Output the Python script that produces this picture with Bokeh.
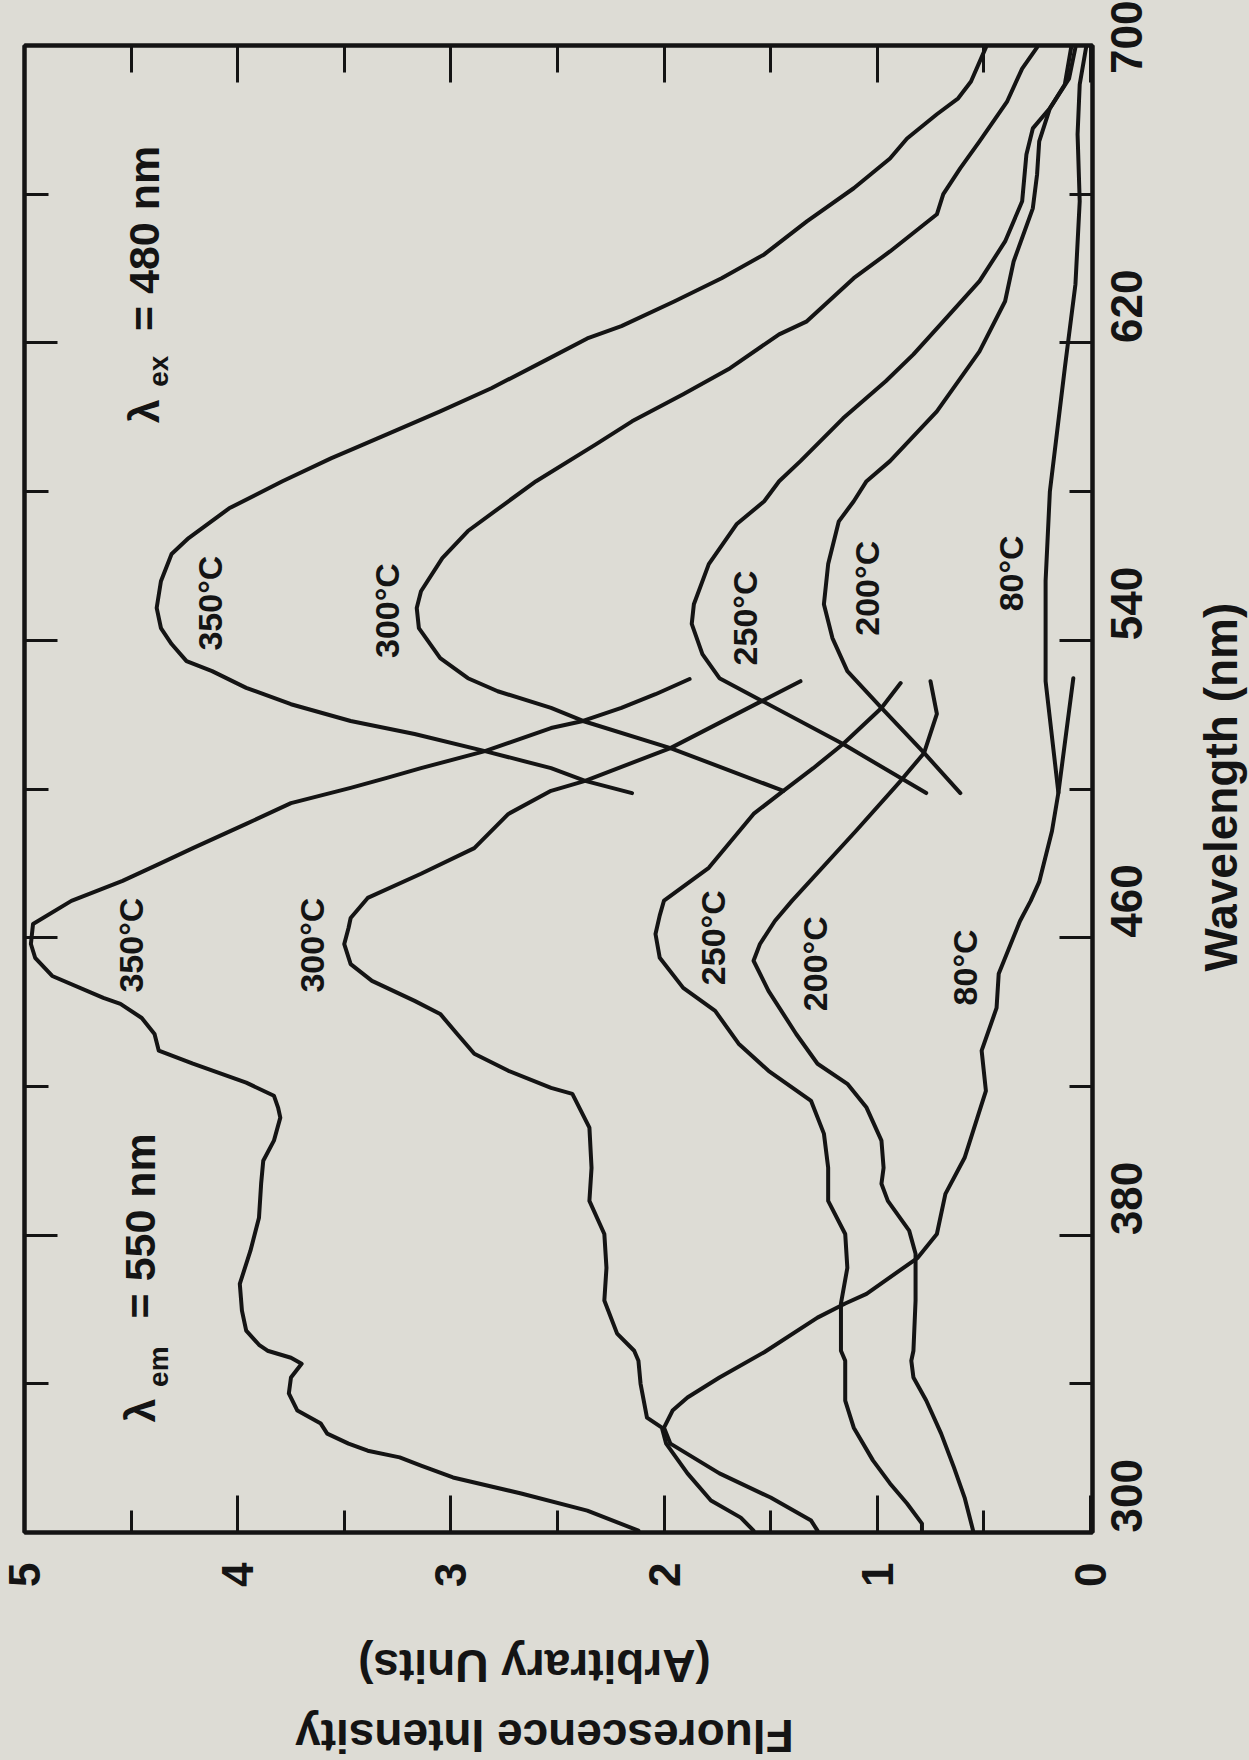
import math
from bokeh.plotting import figure
from bokeh.layouts import column, row
from bokeh.models import Range1d, LinearAxis, FixedTicker, ColumnDataSource
from bokeh.core.properties import value
from bokeh.embed import file_html
from bokeh.resources import INLINE

# ---------------- data (wavelength in nm, intensity in arbitrary units) ----------------
# Excitation spectra, lambda_em = 550 nm
EX350_WL = [300.5, 305.9, 310.5, 314.8, 318.0, 320.2, 322.0, 323.9, 326.6, 329.3, 332.8, 337.4, 341.7,
            345.4, 347.0, 348.9, 350.5, 354.3, 359.7, 366.9, 375.8, 384.7, 393.8, 400.0, 405.4, 411.6,
            414.2, 417.5, 421.0, 426.1, 429.6, 434.1, 438.4, 442.2, 443.8, 449.7, 454.6, 458.3, 463.7,
            469.9, 475.3, 479.8, 484.1, 490.6, 496.2, 500.3, 503.0, 505.6, 510.2, 516.4, 518.3, 521.8,
            525.5, 529.6]
EX350_I = [2.12, 2.36, 2.67, 2.99, 3.14, 3.24, 3.39, 3.48, 3.58, 3.61, 3.72, 3.76, 3.75,
           3.70, 3.75, 3.86, 3.90, 3.96, 3.98, 3.99, 3.94, 3.90, 3.89, 3.88, 3.83, 3.80,
           3.81, 3.83, 3.96, 4.21, 4.37, 4.39, 4.45, 4.55, 4.63, 4.87, 4.95, 4.97, 4.96,
           4.78, 4.54, 4.37, 4.21, 3.96, 3.75, 3.47, 3.30, 3.14, 2.84, 2.53, 2.38, 2.20,
           2.04, 1.88]

EX300_WL = [300.5, 304.0, 308.6, 315.9, 323.9, 328.2, 330.9, 340.0, 346.2, 348.9, 353.5, 362.4, 371.2,
            380.3, 389.2, 398.1, 408.9, 418.0, 419.6, 424.2, 428.8, 434.1, 439.5, 443.0, 448.4, 452.9,
            458.3, 462.6, 465.3, 470.7, 477.2, 484.1, 493.3, 499.5, 502.2, 511.0, 523.7, 529.0]
EX300_I = [1.58, 1.64, 1.78, 1.89, 1.99, 2.01, 2.08, 2.11, 2.12, 2.14, 2.22, 2.28, 2.27,
           2.28, 2.35, 2.34, 2.35, 2.43, 2.53, 2.73, 2.89, 2.97, 3.05, 3.17, 3.37, 3.47,
           3.50, 3.48, 3.47, 3.39, 3.14, 2.89, 2.73, 2.53, 2.37, 1.97, 1.54, 1.36]

EX250_WL = [300.5, 302.4, 307.8, 313.2, 319.4, 328.2, 335.5, 346.2, 348.9, 361.6, 371.2, 380.3, 389.2,
            398.1, 407.3, 416.1, 424.2, 431.5, 440.3, 446.5, 454.6, 461.0, 466.0, 470.0, 478.8, 493.3,
            499.5, 505.6, 512.1, 521.8, 528.5]
EX250_I = [0.79, 0.79, 0.86, 0.94, 1.02, 1.11, 1.15, 1.15, 1.17, 1.17, 1.14, 1.15, 1.23,
           1.23, 1.25, 1.31, 1.51, 1.65, 1.76, 1.91, 2.02, 2.04, 2.02, 2.00, 1.79, 1.58,
           1.44, 1.30, 1.16, 0.98, 0.89]

EX200_WL = [300.5, 309.4, 317.5, 326.6, 335.5, 341.7, 346.2, 348.9, 362.4, 375.0, 381.2, 389.2, 393.8,
            398.1, 405.4, 414.3, 420.7, 426.1, 434.1, 445.7, 453.8, 458.3, 464.5, 469.9, 488.7, 502.2,
            509.7, 520.2, 529.0]
EX200_I = [0.55, 0.59, 0.64, 0.70, 0.77, 0.83, 0.84, 0.83, 0.82, 0.82, 0.85, 0.95, 0.98,
           0.97, 0.98, 1.05, 1.14, 1.28, 1.38, 1.51, 1.58, 1.55, 1.48, 1.40, 1.10, 0.89,
           0.78, 0.72, 0.75]

EX80_WL = [300.5, 303.2, 309.4, 315.9, 323.9, 328.2, 332.8, 336.3, 341.7, 348.5, 357.8, 361.6, 364.2,
           373.9, 380.3, 391.1, 400.8, 411.6, 418.8, 429.6, 441.1, 450.3, 464.5, 469.9, 475.0, 488.7,
           499.0, 529.8]
EX80_I = [1.28, 1.31, 1.50, 1.74, 1.97, 2.00, 1.96, 1.89, 1.74, 1.53, 1.28, 1.15, 1.05,
          0.81, 0.72, 0.68, 0.59, 0.53, 0.49, 0.51, 0.44, 0.43, 0.33, 0.28, 0.24, 0.18,
          0.15, 0.08]

# Emission spectra, lambda_ex = 480 nm
EM350_WL = [498.9, 502.2, 505.6, 510.2, 514.8, 518.3, 522.8, 527.2, 531.7, 534.4, 539.0, 543.3, 548.7,
            555.9, 563.2, 567.5, 575.5, 582.8, 589.0, 591.7, 595.4, 601.6, 607.8, 615.5, 621.2, 624.5,
            631.2, 637.4, 643.8, 652.7, 661.6, 669.6, 675.0, 681.5, 685.8, 690.3, 699.5]
EM350_I = [2.15, 2.37, 2.53, 2.84, 3.17, 3.47, 3.75, 3.96, 4.12, 4.24, 4.31, 4.36, 4.38,
           4.36, 4.31, 4.23, 4.04, 3.79, 3.56, 3.45, 3.30, 3.05, 2.81, 2.55, 2.36, 2.20,
           1.95, 1.73, 1.53, 1.33, 1.11, 0.94, 0.86, 0.72, 0.62, 0.56, 0.49]

EM300_WL = [499.5, 511.0, 518.3, 521.8, 526.3, 529.8, 535.2, 543.3, 548.7, 553.2, 562.1, 569.4, 577.4,
            582.8, 592.7, 598.9, 606.2, 613.2, 622.3, 625.8, 637.4, 644.6, 654.6, 660.0, 667.0, 674.2,
            685.0, 693.8, 699.5]
EM300_I = [1.44, 1.97, 2.38, 2.53, 2.78, 2.92, 3.05, 3.15, 3.16, 3.14, 3.04, 2.92, 2.73,
           2.60, 2.32, 2.15, 1.91, 1.69, 1.46, 1.33, 1.11, 0.94, 0.72, 0.69, 0.61, 0.52,
           0.39, 0.32, 0.25]

EM250_WL = [498.9, 512.1, 523.7, 529.8, 536.3, 544.4, 549.7, 560.5, 571.2, 577.4, 582.8, 588.2, 599.7,
            609.7, 616.9, 625.8, 636.6, 647.3, 658.1, 670.7, 677.7, 683.1, 689.5, 699.5]
EM250_I = [0.77, 1.16, 1.54, 1.74, 1.82, 1.87, 1.86, 1.79, 1.66, 1.53, 1.46, 1.36, 1.16,
           0.96, 0.83, 0.69, 0.52, 0.40, 0.32, 0.30, 0.27, 0.19, 0.12, 0.09]

EM200_WL = [498.9, 509.7, 521.8, 531.7, 540.6, 549.7, 560.5, 572.0, 577.4, 582.8, 588.2, 601.6, 617.7,
            631.2, 641.9, 656.2, 665.3, 674.2, 683.1, 691.1, 699.5]
EM200_I = [0.61, 0.78, 0.98, 1.14, 1.21, 1.25, 1.23, 1.18, 1.11, 1.05, 0.94, 0.72, 0.52,
           0.40, 0.36, 0.27, 0.25, 0.24, 0.19, 0.10, 0.07]

EM80_WL = [499.0, 529.0, 556.0, 580.0, 613.2, 635.8, 658.1, 676.1, 689.5, 699.5]
EM80_I = [0.15, 0.21, 0.21, 0.19, 0.12, 0.07, 0.05, 0.06, 0.05, 0.02]

# curve labels
CURVE_LABELS = ["350°C", "300°C", "250°C", "200°C", "80°C",
                "350°C", "300°C", "250°C", "200°C", "80°C"]
CURVE_LABEL_I = [4.50, 3.65, 1.77, 1.29, 0.59, 4.13, 3.30, 1.62, 1.05, 0.37]
CURVE_LABEL_WL = [458, 458, 460, 453, 452, 550, 548, 546, 554, 558]

# axis ticks
INTENSITY_TICKS = [0, 1, 2, 3, 4, 5]
INTENSITY_MINOR = [0.5, 1.5, 2.5, 3.5, 4.5]
WL_TICKS = [300, 380, 460, 540, 620, 700]
WL_MINOR = [340, 420, 500, 580, 660]

# axis titles: text and where each one is centred
WL_TITLE = "Wavelength (nm)"
WL_TITLE_AT = 500.5              # along the wavelength axis
INT_TITLES = ["(Arbitrary Units)", "Fluorescence Intensity"]
INT_TITLES_AT = [2.608, 2.561]   # along the intensity axis
INT_TITLES_ROW = [0.258, 0.81]   # 0 = top, 1 = bottom of the title strip

INK = "#141414"
BG = "#dddcd5"
FONT = "Liberation Sans"

W, H = 1249, 1760
RIGHT_STRIP = 70
BOTTOM_STRIP = 128
MAIN_W, MAIN_H = W - RIGHT_STRIP, H - BOTTOM_STRIP

x_rng = Range1d(5.0, -0.01)
y_rng = Range1d(300, 700)

p = figure(width=MAIN_W, height=MAIN_H, output_backend="svg", toolbar_location=None,
           x_range=x_rng, y_range=y_rng, x_axis_location="below", y_axis_location="right",
           min_border_left=24, min_border_right=MAIN_W - 1092, min_border_top=45,
           min_border_bottom=MAIN_H - 1532)
p.xgrid.visible = False
p.ygrid.visible = False
p.background_fill_color = BG
p.border_fill_color = BG
p.outline_line_color = INK
p.outline_line_width = 4


def style_axis(ax, ticks, minor, major_in, minor_in, label_standoff, vertical_side):
    ax.ticker = FixedTicker(ticks=ticks, minor_ticks=minor)
    ax.axis_line_width = 4
    ax.axis_line_color = INK
    ax.major_tick_in = major_in
    ax.major_tick_out = 0
    ax.minor_tick_in = minor_in
    ax.minor_tick_out = 0
    ax.major_tick_line_width = 3
    ax.minor_tick_line_width = 3
    ax.major_tick_line_color = INK
    ax.minor_tick_line_color = INK
    ax.major_label_text_font = FONT
    ax.major_label_text_font_style = "bold"
    ax.major_label_text_font_size = "44px"
    ax.major_label_text_color = INK
    if label_standoff is not None:
        ax.major_label_orientation = math.pi / 2
        ax.major_label_standoff = label_standoff
    else:
        # tick marks only
        ax.major_label_overrides = {t: "" for t in ticks}
        ax.major_label_orientation = "horizontal" if vertical_side else math.pi / 2
        ax.major_label_standoff = 0


style_axis(p.xaxis[0], INTENSITY_TICKS, INTENSITY_MINOR, 37, 22, 30, False)
style_axis(p.yaxis[0], WL_TICKS, WL_MINOR, 33, 23, 34, True)

top_axis = LinearAxis()
style_axis(top_axis, INTENSITY_TICKS, INTENSITY_MINOR, 37, 27, None, False)
p.add_layout(top_axis, "above")

left_axis = LinearAxis()
style_axis(left_axis, WL_TICKS, WL_MINOR, 33, 24, None, True)
p.add_layout(left_axis, "left")

series = [(EX350_I, EX350_WL), (EX300_I, EX300_WL), (EX250_I, EX250_WL), (EX200_I, EX200_WL),
          (EX80_I, EX80_WL), (EM350_I, EM350_WL), (EM300_I, EM300_WL), (EM250_I, EM250_WL),
          (EM200_I, EM200_WL), (EM80_I, EM80_WL)]
for xs, ys in series:
    p.line(x=xs, y=ys, line_width=4, line_color=INK, line_join="round", line_cap="round")

src = ColumnDataSource(dict(x=CURVE_LABEL_I, y=CURVE_LABEL_WL, t=CURVE_LABELS))
p.text(x="x", y="y", text="t", source=src, angle=math.pi / 2, text_align="center",
       text_baseline="middle", text_font=value(FONT), text_font_style="bold",
       text_font_size="34px", text_color=INK)

# lambda annotations
ann_src = ColumnDataSource(dict(
    x=[4.456, 4.456, 4.44, 4.44],
    y=[332.8, 382.5, 601.6, 648.1],
    t=["λ", "= 550 nm", "λ", "= 480 nm"]))
p.text(x="x", y="y", text="t", source=ann_src, angle=math.pi / 2, text_align="center",
       text_baseline="middle", text_font=value(FONT), text_font_style="bold",
       text_font_size="43px", text_color=INK)
sub_src = ColumnDataSource(dict(x=[4.37, 4.37], y=[344.6, 612.4], t=["em", "ex"]))
p.text(x="x", y="y", text="t", source=sub_src, angle=math.pi / 2, text_align="center",
       text_baseline="middle", text_font=value(FONT), text_font_style="bold",
       text_font_size="28px", text_color=INK)


def strip(width, height, xr, yr, **borders):
    f = figure(width=width, height=height, output_backend="svg", toolbar_location=None,
               x_range=xr, y_range=yr, x_axis_location=None, y_axis_location=None,
               title=None, **borders)
    f.xgrid.visible = False
    f.ygrid.visible = False
    f.outline_line_color = None
    f.background_fill_color = BG
    f.border_fill_color = BG
    return f


# right strip: wavelength title, sharing the wavelength scale of the chart
rs = strip(RIGHT_STRIP, MAIN_H, Range1d(0, 1), y_rng,
           min_border_left=0, min_border_right=0, min_border_top=45,
           min_border_bottom=MAIN_H - 1532)
rs.text(x=[0.586], y=[WL_TITLE_AT], text=[WL_TITLE], angle=math.pi / 2, text_align="center",
        text_baseline="middle", text_font=value(FONT), text_font_style="bold",
        text_font_size="46px", text_color=INK)

# bottom strip: intensity title (upside down), sharing the intensity scale of the chart
bs = strip(W, BOTTOM_STRIP, x_rng, Range1d(1, 0),
           min_border_left=24, min_border_right=W - 1092, min_border_top=0, min_border_bottom=0)
bs.text(x=INT_TITLES_AT, y=INT_TITLES_ROW, text=INT_TITLES, angle=math.pi, text_align="center",
        text_baseline="middle", text_font=value(FONT), text_font_style="bold",
        text_font_size="46px", text_color=INK)

layout = column(row(p, rs, spacing=0, styles={"background-color": BG}), bs,
                spacing=0, styles={"background-color": BG})
html = file_html(layout, INLINE)
html = html.replace("<head>", "<head><style>html, body { background: %s; margin: 0; }</style>" % BG, 1)
open("out.html", "w").write(html)
